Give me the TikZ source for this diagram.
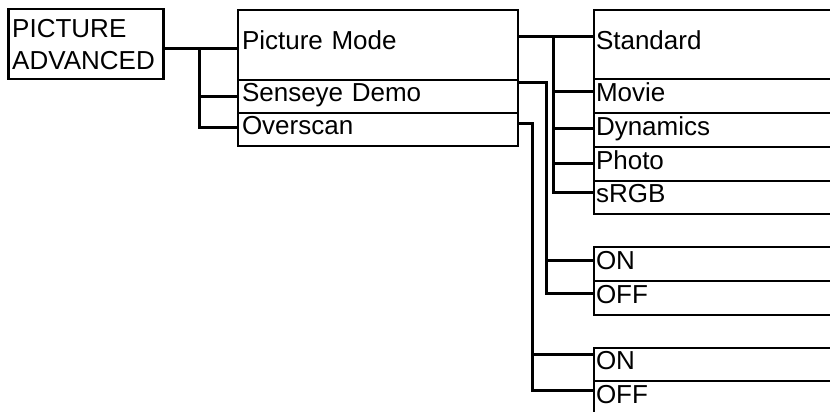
\documentclass[tikz,border=0pt]{standalone}
\usepackage{fontspec}
\setmainfont{Liberation Sans}
\begin{document}
\begin{tikzpicture}[x=1pt,y=-1pt,
  cell/.style={draw,line width=2pt,anchor=north west,inner ysep=0pt,align=left,text height=18pt,text depth=8pt,font=\fontsize{26}{30}\selectfont},
  mid/.style={cell,inner xsep=4pt,text width=272pt},
  opt/.style={cell,inner xsep=2pt,text width=246pt},
  link/.style={line width=3pt}]
\path[use as bounding box,clip] (0,0) rectangle (830,412);
\node[draw,line width=2.5pt,anchor=north west,inner xsep=4pt,text width=147pt,minimum height=70pt,align=left,font=\fontsize{26}{32}\selectfont] (pa) at (7,8) {PICTURE\\ADVANCED};
\node[mid,minimum height=70pt] (pm) at (237,9) {Picture Mode};
\node[mid,minimum height=33pt] (sen) at (237,79) {Senseye Demo};
\node[mid,minimum height=33pt] (ovs) at (237,112) {Overscan};
\node[opt,minimum height=69pt] (std) at (593,9) {Standard};
\node[opt,minimum height=34pt] (mov) at (593,78) {Movie};
\node[opt,minimum height=34pt] (dyn) at (593,112) {Dynamics};
\node[opt,minimum height=34pt] (pho) at (593,146) {Photo};
\node[opt,minimum height=33pt] (srgb) at (593,180) {sRGB};
\node[opt,minimum height=34pt] (on1) at (593,246) {ON};
\node[opt,minimum height=34pt] (off1) at (593,280) {OFF};
\node[opt,minimum height=33pt] (on2) at (593,347) {ON};
\node[opt,minimum height=34pt] (off2) at (593,380) {OFF};
% buses
\coordinate (pabus) at (199,49); \coordinate (pmbus) at (553,37);
\coordinate (senbus) at (546,83); \coordinate (ovsbus) at (532,123);
\draw[link] (pa.east |- pabus) -- (pm.west |- pabus);
\draw[link] (pabus) |- (sen.west); \draw[link] (pabus) |- ([yshift=2.5pt]ovs.west);
\draw[link] (pm.east |- pmbus) -- (std.west |- pmbus);
\draw[link] (pmbus) |- ([yshift=5pt]mov.west); \draw[link] (pmbus) |- ([yshift=2pt]dyn.west);
\draw[link] (pmbus) |- ([yshift=1pt]pho.west); \draw[link] (pmbus) |- ([yshift=5.5pt]srgb.west);
\draw[link] (sen.east |- senbus) -- (senbus) |- ([yshift=4pt]on1.west);
\draw[link] (senbus) |- ([yshift=4.5pt]off1.west);
\draw[link] ([xshift=-2pt]ovs.east |- ovsbus) -- (ovsbus) |- ([yshift=10pt]on2.west);
\draw[link] (ovsbus) |- ([yshift=8pt]off2.west);
\end{tikzpicture}
\end{document}
